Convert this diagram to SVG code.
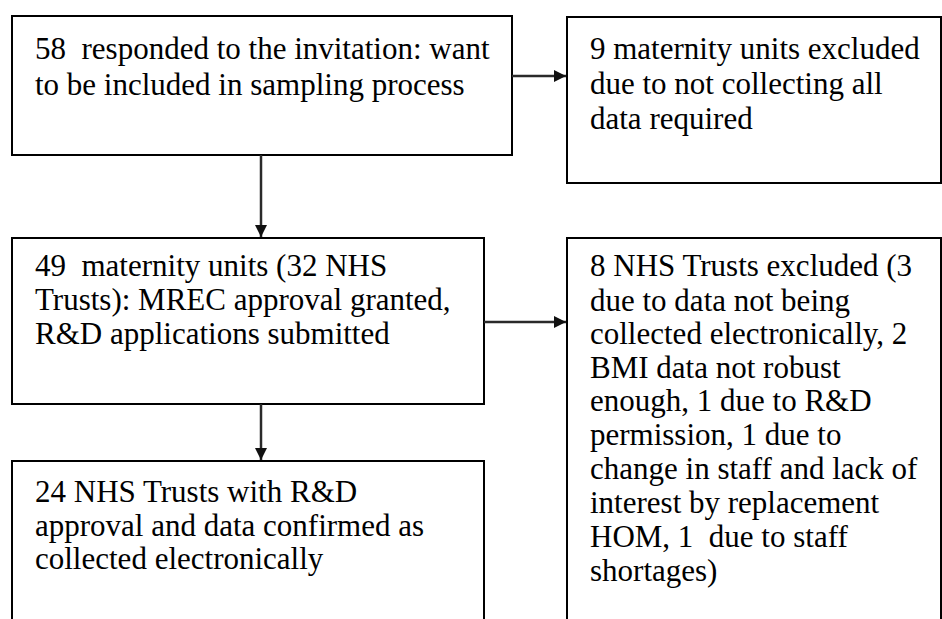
<svg xmlns="http://www.w3.org/2000/svg" width="942" height="619" viewBox="0 0 942 619">
  <defs>
    <marker id="arrow" viewBox="0 0 12 12" refX="12" refY="6" markerWidth="12" markerHeight="12" markerUnits="userSpaceOnUse" orient="auto">
      <path d="M0,0 L12,6 L0,12 Z" fill="#111"/>
    </marker>
    <style>
      .box { fill: #fff; stroke: #000; stroke-width: 2; }
      .txt { font-family: "Liberation Serif", "Times New Roman", serif; font-size: 31px; fill: #000; white-space: pre; }
      .conn { stroke: #2a2a2a; stroke-width: 2.5; fill: none; }
    </style>
  </defs>
  <rect width="942" height="619" fill="#fff"/>

  <g id="responded">
    <rect class="box" x="12" y="16" width="500" height="139"/>
    <text class="txt" x="35" y="59" xml:space="preserve">58  responded to the invitation: want</text>
    <text class="txt" x="35" y="95">to be included in sampling process</text>
  </g>

  <g id="excluded-units">
    <rect class="box" x="567" y="17" width="374" height="166"/>
    <text class="txt" x="590" y="59">9 maternity units excluded</text>
    <text class="txt" x="590" y="94">due to not collecting all</text>
    <text class="txt" x="590" y="129">data required</text>
  </g>

  <g id="approval">
    <rect class="box" x="12" y="238" width="472" height="166"/>
    <text class="txt" x="35" y="276" xml:space="preserve">49  maternity units (32 NHS</text>
    <text class="txt" x="35" y="310">Trusts): MREC approval granted,</text>
    <text class="txt" x="35" y="344">R&amp;D applications submitted</text>
  </g>

  <g id="excluded-trusts">
    <rect class="box" x="567" y="238" width="374" height="400"/>
    <text class="txt" x="590" y="276">8 NHS Trusts excluded (3</text>
    <text class="txt" x="590" y="311">due to data not being</text>
    <text class="txt" x="590" y="344">collected electronically, 2</text>
    <text class="txt" x="590" y="378">BMI data not robust</text>
    <text class="txt" x="590" y="411">enough, 1 due to R&amp;D</text>
    <text class="txt" x="590" y="445">permission, 1 due to</text>
    <text class="txt" x="590" y="479">change in staff and lack of</text>
    <text class="txt" x="590" y="513">interest by replacement</text>
    <text class="txt" x="590" y="547" xml:space="preserve">HOM, 1  due to staff</text>
    <text class="txt" x="590" y="581">shortages)</text>
  </g>

  <g id="confirmed">
    <rect class="box" x="12" y="461" width="472" height="180"/>
    <text class="txt" x="35" y="502">24 NHS Trusts with R&amp;D</text>
    <text class="txt" x="35" y="536">approval and data confirmed as</text>
    <text class="txt" x="35" y="569">collected electronically</text>
  </g>

  <g id="connectors">
    <line class="conn" x1="512" y1="76" x2="566" y2="76" marker-end="url(#arrow)"/>
    <line class="conn" x1="261" y1="155" x2="261" y2="237" marker-end="url(#arrow)"/>
    <line class="conn" x1="484" y1="322" x2="566" y2="322" marker-end="url(#arrow)"/>
    <line class="conn" x1="261" y1="404" x2="261" y2="460" marker-end="url(#arrow)"/>
  </g>
</svg>
